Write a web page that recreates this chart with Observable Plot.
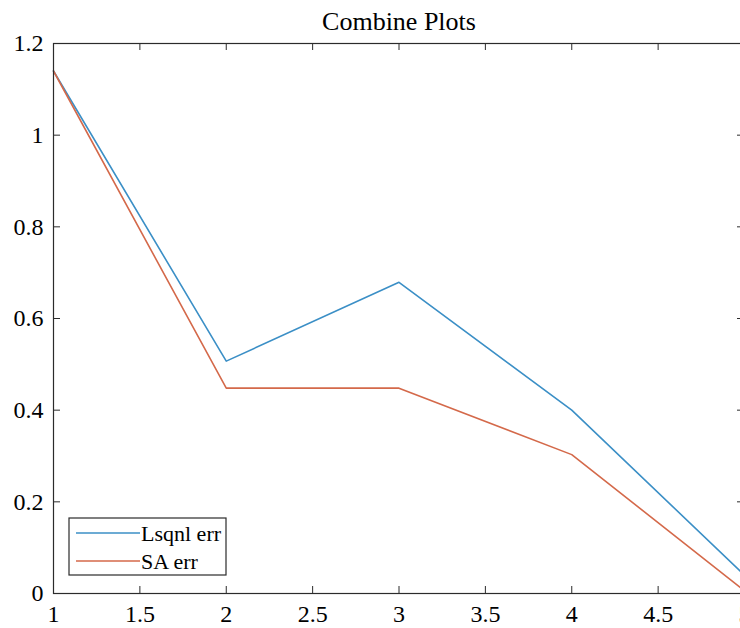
<!DOCTYPE html>
<html>
<head>
<meta charset="utf-8">
<script src="https://cdn.jsdelivr.net/npm/d3@7"></script>
<script src="https://cdn.jsdelivr.net/npm/@observablehq/plot@0.6"></script>
<style>
  html, body { margin: 0; padding: 0; background: #fff; overflow: hidden; width: 740px; height: 628px; }
  svg { display: block; }
</style>
</head>
<body>
<div id="chart"></div>
<script>
const title = "Combine Plots";
const xValues = [1, 2, 3, 4, 5];
const lsqnlErr = [1.14, 0.507, 0.679, 0.400, 0.040];
const saErr = [1.14, 0.448, 0.448, 0.303, 0.006];
const seriesNames = ["Lsqnl err", "SA err"];
const seriesColors = ["#3b8fc6", "#d4694a"];
const xTicks = [1, 1.5, 2, 2.5, 3, 3.5, 4, 4.5, 5];
const yTicks = [0, 0.2, 0.4, 0.6, 0.8, 1, 1.2];

const rows = [];
xValues.forEach((x, i) => {
  rows.push({x, y: lsqnlErr[i], s: seriesNames[0]});
  rows.push({x, y: saErr[i], s: seriesNames[1]});
});

const W = 747, H = 628, mL = 53, mR = 3, mT = 43, mB = 35;
const fw = W - mL - mR, fh = H - mT - mB, tick = 7;
const font = "Liberation Serif, Times New Roman, serif";
const axisColor = "#2b2b2b";

const plot = Plot.plot({
  width: W, height: H,
  marginLeft: mL, marginRight: mR, marginTop: mT, marginBottom: mB,
  style: {fontFamily: font, fontSize: "24px", color: "#000", background: "#fff", maxWidth: "none"},
  x: {domain: [1, 5], ticks: xTicks},
  y: {domain: [0, 1.2], ticks: yTicks},
  color: {domain: seriesNames, range: seriesColors},
  marks: [
    Plot.axisX(xTicks, {tickSize: 0, tickPadding: 11, label: null, tickFormat: d => String(d), fontSize: 24}),
    Plot.axisY(yTicks, {tickSize: 0, tickPadding: 10, label: null, tickFormat: d => String(d), fontSize: 24}),
    Plot.ruleX(xTicks, {x: d => d, insetTop: fh - tick, stroke: axisColor}),
    Plot.ruleX(xTicks, {x: d => d, insetBottom: fh - tick, stroke: axisColor}),
    Plot.ruleY(yTicks, {y: d => d, insetRight: fw - tick, stroke: axisColor}),
    Plot.ruleY(yTicks, {y: d => d, insetLeft: fw - tick, stroke: axisColor}),
    Plot.line(rows, {x: "x", y: "y", z: "s", stroke: "s", strokeWidth: 1.6}),
    Plot.frame({stroke: axisColor, strokeWidth: 1.2}),
    Plot.text([title], {text: d => d, frameAnchor: "top", lineAnchor: "bottom", dy: -14, fontSize: 26, fill: "#000"})
  ]
});
plot.style.maxWidth = "none";

// Legend (MATLAB-style box in the lower-left)
const svg = d3.select(plot);
const lg = svg.append("g").attr("font-family", font).attr("text-anchor", "start");
const bx = 69, by = 518, bw = 157, bh = 57;
lg.append("rect").attr("x", bx).attr("y", by).attr("width", bw).attr("height", bh)
  .attr("fill", "#fff").attr("stroke", axisColor).attr("stroke-width", 1.2);
seriesNames.forEach((name, i) => {
  const yy = by + 15 + i * 28;
  lg.append("line").attr("x1", bx + 7).attr("x2", bx + 71).attr("y1", yy).attr("y2", yy)
    .attr("stroke", seriesColors[i]).attr("stroke-width", 1.6);
  lg.append("text").attr("x", bx + 72).attr("y", yy).attr("dy", "0.35em")
    .attr("font-size", 22).attr("fill", "#000").attr("text-anchor", "start").text(name);
});

document.getElementById("chart").appendChild(plot);
</script>
</body>
</html>
